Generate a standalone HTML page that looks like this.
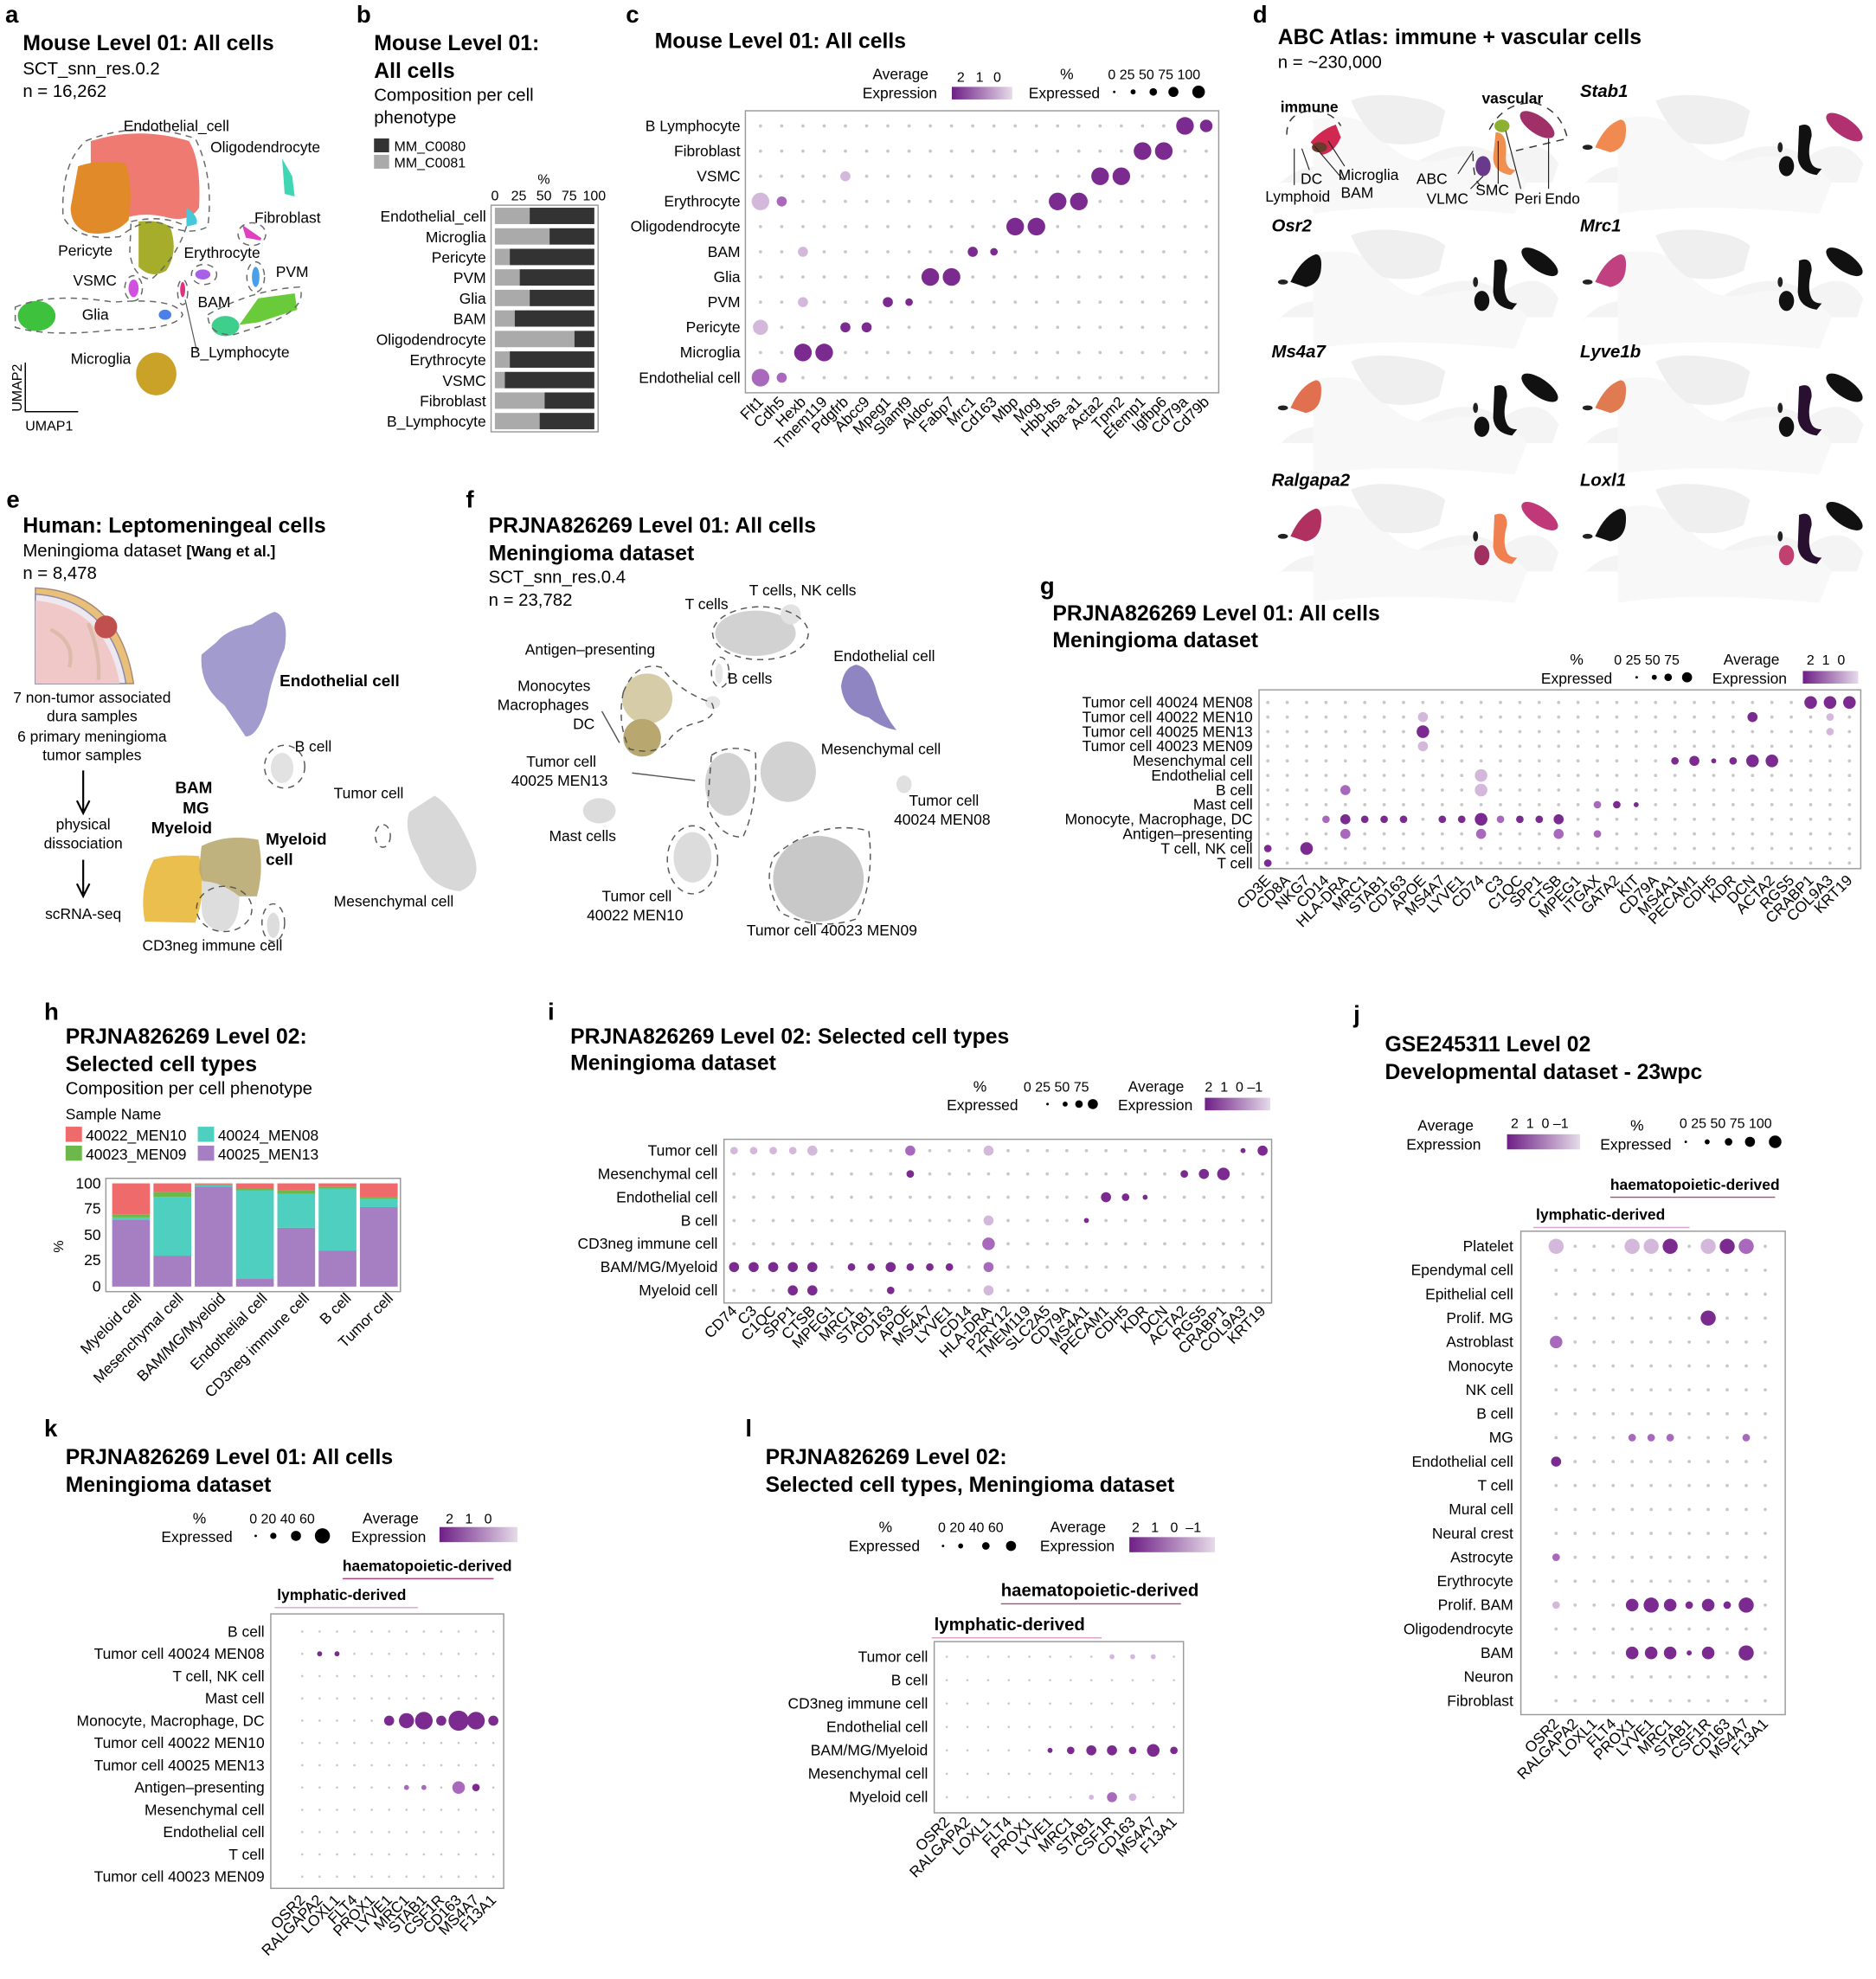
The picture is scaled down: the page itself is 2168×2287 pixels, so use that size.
<!DOCTYPE html>
<html><head><meta charset="utf-8"><style>html,body{margin:0;padding:0;background:#fff}svg{display:block}</style></head>
<body>
<svg id="s" xmlns="http://www.w3.org/2000/svg" width="2168" height="2287" viewBox="0 0 1490 1572" font-family="Liberation Sans, Arial, sans-serif" font-size="12">
<defs><linearGradient id="gr"><stop offset="0" stop-color="#6e1f86"/><stop offset="1" stop-color="#e6dbe9"/></linearGradient></defs>
<!-- ===== Panel a ===== -->
<g>
<text x="4" y="18" font-size="19" font-weight="bold">a</text>
<text x="18" y="40" font-size="17" font-weight="bold">Mouse Level 01: All cells</text>
<text x="18" y="59" font-size="14">SCT_snn_res.0.2</text>
<text x="18" y="77" font-size="14">n = 16,262</text>
<path d="M72 112 Q110 100 150 112 Q160 128 158 165 Q150 178 130 172 Q110 168 95 175 L72 172 Z" fill="#ef7a72"/>
<path d="M62 132 Q80 126 100 130 Q106 150 102 175 Q90 188 70 185 Q56 180 56 165 Z" fill="#e08a2a"/>
<path d="M148 165 Q158 172 156 178 L148 180 Z" fill="#45c8d8"/>
<path d="M110 176 Q125 174 135 180 Q142 200 132 215 Q120 222 110 212 Z" fill="#a5ad2a"/>
<path d="M224 126 L232 140 L234 156 L226 154 Z" fill="#3fd6b4"/>
<ellipse cx="29" cy="251" rx="15" ry="12" fill="#3ec23e"/>
<ellipse cx="124" cy="297" rx="16" ry="17" fill="#c9a227"/>
<path d="M205 237 L234 233 L236 246 L205 256 L190 258 Z" fill="#6acb3a"/>
<ellipse cx="179" cy="259" rx="11" ry="8" fill="#3ecf8c"/>
<path d="M194 181 L207 190 L196 188 Z" fill="#e040c0" stroke="#e040c0" stroke-width="2"/>
<ellipse cx="161" cy="218" rx="6" ry="4" fill="#a860e8"/>
<ellipse cx="203" cy="220" rx="3" ry="8" fill="#4aa0e8"/>
<ellipse cx="106" cy="229" rx="4" ry="7" fill="#d050e0"/>
<ellipse cx="131" cy="250" rx="5" ry="4" fill="#4a80e8"/>
<ellipse cx="145" cy="230" rx="2" ry="6" fill="#e03080"/>
<g fill="none" stroke="#666" stroke-dasharray="5,4">
<path d="M68 112 Q110 95 155 110 Q170 140 165 180 Q150 188 130 178 Q115 172 95 188 Q60 192 50 172 Q48 130 68 112 Z"/>
<path d="M104 176 Q130 170 148 180 Q140 205 120 222 Q105 220 103 200 Z"/>
<path d="M12 244 Q40 232 90 240 Q140 236 145 250 Q140 262 90 262 Q40 268 12 260 Z"/>
<path d="M165 250 Q200 230 238 228 Q245 245 210 258 L185 266 Q165 266 165 250 Z"/>
<ellipse cx="200" cy="186" rx="11" ry="9"/><ellipse cx="162" cy="218" rx="10" ry="8"/><ellipse cx="106" cy="229" rx="7" ry="10"/><ellipse cx="145" cy="232" rx="4" ry="10"/><ellipse cx="203" cy="220" rx="7" ry="12"/>
</g>
<line x1="147" y1="238" x2="156" y2="278" stroke="#555" stroke-width=".8"/>
<text x="98" y="104" font-size="12">Endothelial_cell</text>
<text x="167" y="121" font-size="12">Oligodendrocyte</text>
<text x="202" y="177" font-size="12">Fibroblast</text>
<text x="46" y="203" font-size="12">Pericyte</text>
<text x="146" y="205" font-size="12">Erythrocyte</text>
<text x="219" y="220" font-size="12">PVM</text>
<text x="58" y="227" font-size="12">VSMC</text>
<text x="157" y="244" font-size="12">BAM</text>
<text x="65" y="254" font-size="12">Glia</text>
<text x="56" y="289" font-size="12">Microglia</text>
<text x="151" y="284" font-size="12">B_Lymphocyte</text>
<path d="M20 288 V327 H62" fill="none" stroke="#000"/>
<text x="17" y="327" font-size="11" transform="rotate(-90 17 327)">UMAP2</text>
<text x="20" y="342" font-size="11">UMAP1</text>
</g>
<!-- ===== Panel b ===== -->
<g>
<text x="283" y="18" font-size="19" font-weight="bold">b</text>
<text x="297" y="40" font-size="17" font-weight="bold">Mouse Level 01:</text>
<text x="297" y="62" font-size="17" font-weight="bold">All cells</text>
<text x="297" y="80" font-size="14">Composition per cell</text>
<text x="297" y="98" font-size="14">phenotype</text>
<rect x="297" y="110" width="12" height="11" fill="#333"/><text x="313" y="120" font-size="11">MM_C0080</text>
<rect x="297" y="123" width="12" height="11" fill="#aaa"/><text x="313" y="133" font-size="11">MM_C0081</text>
<text x="427" y="146" font-size="11">%</text>
<text x="393" y="159" font-size="11" text-anchor="middle">0</text><text x="412" y="159" font-size="11" text-anchor="middle">25</text><text x="432" y="159" font-size="11" text-anchor="middle">50</text><text x="452" y="159" font-size="11" text-anchor="middle">75</text><text x="472" y="159" font-size="11" text-anchor="middle">100</text>
<rect x="390" y="163" width="85" height="180" fill="none" stroke="#999"/>
<g id="bbars"></g>
<g id="brows" font-size="12" text-anchor="end"><text>Endothelial_cell</text><text>Microglia</text><text>Pericyte</text><text>PVM</text><text>Glia</text><text>BAM</text><text>Oligodendrocyte</text><text>Erythrocyte</text><text>VSMC</text><text>Fibroblast</text><text>B_Lymphocyte</text></g>
</g>
<!-- ===== Panel c ===== -->
<g>
<text x="497" y="18" font-size="19" font-weight="bold">c</text>
<text x="520" y="38" font-size="17" font-weight="bold">Mouse Level 01: All cells</text>
<text x="693" y="63" font-size="12">Average</text><text x="685" y="78" font-size="12">Expression</text>
<text x="760" y="65" font-size="11">2</text><text x="775" y="65" font-size="11">1</text><text x="789" y="65" font-size="11">0</text>
<rect x="756" y="69" width="48" height="10" fill="url(#gr)"/>
<text x="842" y="63" font-size="12">%</text><text x="817" y="78" font-size="12">Expressed</text>
<text x="880" y="63" font-size="11">0 25 50 75 100</text>
<circle cx="885" cy="73" r="1" /><circle cx="900" cy="73" r="2"/><circle cx="916" cy="73" r="3"/><circle cx="932" cy="73" r="4"/><circle cx="952" cy="73" r="5"/>
<rect x="592" y="88" width="376" height="224" fill="none" stroke="#999"/>
<g id="crows" font-size="12" text-anchor="end"><text>B Lymphocyte</text><text>Fibroblast</text><text>VSMC</text><text>Erythrocyte</text><text>Oligodendrocyte</text><text>BAM</text><text>Glia</text><text>PVM</text><text>Pericyte</text><text>Microglia</text><text>Endothelial cell</text></g>
<g id="ccols" font-size="12" text-anchor="end"><text>Flt1</text><text>Cdh5</text><text>Hexb</text><text>Tmem119</text><text>Pdgfrb</text><text>Abcc9</text><text>Mpeg1</text><text>Slamf9</text><text>Aldoc</text><text>Fabp7</text><text>Mrc1</text><text>Cd163</text><text>Mbp</text><text>Mog</text><text>Hbb-bs</text><text>Hba-a1</text><text>Acta2</text><text>Tpm2</text><text>Efemp1</text><text>Igfbp6</text><text>Cd79a</text><text>Cd79b</text></g>
</g>
<!-- ===== Panel d ===== -->
<g>
<text x="995" y="18" font-size="19" font-weight="bold">d</text>
<text x="1015" y="35" font-size="17" font-weight="bold">ABC Atlas: immune + vascular cells</text>
<text x="1015" y="54" font-size="14">n = ~230,000</text>
<g id="dmaps"></g>
<g font-size="14" font-weight="bold" font-style="italic">
<text x="1255" y="77">Stab1</text><text x="1010" y="184">Osr2</text><text x="1255" y="184">Mrc1</text>
<text x="1010" y="284">Ms4a7</text><text x="1255" y="284">Lyve1b</text>
<text x="1010" y="386">Ralgapa2</text><text x="1255" y="386">Loxl1</text></g>
<g fill="none" stroke="#333" stroke-dasharray="6,5"><path d="M1022 107 Q1022 90 1040 88 Q1058 88 1065 100"/><path d="M1183 103 Q1195 80 1220 82 Q1240 88 1245 110 L1203 120"/><path d="M1170 122 Q1170 150 1180 148"/></g>
<g stroke="#222" stroke-width=".8"><line x1="1028" y1="118" x2="1028" y2="147"/><line x1="1034" y1="118" x2="1040" y2="135"/><line x1="1044" y1="116" x2="1067" y2="143"/><line x1="1055" y1="112" x2="1068" y2="132"/><line x1="1170" y1="120" x2="1158" y2="138"/><line x1="1178" y1="140" x2="1168" y2="150"/><line x1="1190" y1="112" x2="1190" y2="146"/><line x1="1196" y1="104" x2="1208" y2="150"/><line x1="1230" y1="110" x2="1230" y2="150"/></g>
<g font-size="12"><text x="1017" y="89" font-weight="bold">immune</text><text x="1177" y="82" font-weight="bold">vascular</text>
<text x="1033" y="146">DC</text><text x="1063" y="143">Microglia</text><text x="1005" y="160">Lymphoid</text><text x="1065" y="157">BAM</text>
<text x="1125" y="146">ABC</text><text x="1133" y="162">VLMC</text><text x="1172" y="155">SMC</text><text x="1203" y="162">Peri</text><text x="1227" y="162">Endo</text></g>
</g>
<!-- ===== Panel e ===== -->
<g>
<text x="5" y="403" font-size="19" font-weight="bold">e</text>
<text x="18" y="423" font-size="17" font-weight="bold">Human: Leptomeningeal cells</text>
<text x="18" y="442" font-size="14">Meningioma dataset <tspan font-weight="bold" font-size="12">[Wang et al.]</tspan></text>
<text x="18" y="460" font-size="14">n = 8,478</text>
<path d="M28 467 Q95 470 106 543 L28 543 Z" fill="#e8c07a" stroke="#a87"/>
<path d="M28 472 Q88 476 100 543 L28 543 Z" fill="#eee8f0" stroke="#88a"/>
<path d="M28 477 Q84 482 95 543 L28 543 Z" fill="#f0c8c8"/>
<path d="M40 500 Q60 510 55 530 M70 495 Q80 520 78 540" stroke="#dba" fill="none" stroke-width="3"/>
<circle cx="84" cy="498" r="9" fill="#c0504e"/>
<g font-size="12" text-anchor="middle"><text x="73" y="558">7 non-tumor associated</text><text x="73" y="573">dura samples</text><text x="73" y="589">6 primary meningioma</text><text x="73" y="604">tumor samples</text>
<text x="66" y="659">physical</text><text x="66" y="674">dissociation</text><text x="66" y="730">scRNA-seq</text></g>
<path d="M66 612 V644 M61 636 L66 646 L71 636 M66 683 V710 M61 702 L66 712 L71 702" stroke="#000" stroke-width="1.5" fill="none"/>
<path d="M172 510 Q180 500 200 496 Q212 488 218 486 Q230 490 226 515 Q215 540 212 560 Q205 585 195 585 Q185 570 178 560 Q158 545 160 520 Z" fill="#9189c6" opacity=".85"/>
<path d="M122 683 Q135 678 158 680 Q165 705 155 733 L115 732 Q110 705 122 683 Z" fill="#e8b83a" opacity=".9"/>
<path d="M160 672 Q180 662 205 667 Q210 690 204 712 L175 712 Q160 705 158 690 Z" fill="#b8aa70" opacity=".9"/>
<path d="M160 700 Q175 700 190 712 Q190 735 178 740 Q160 738 160 720 Z" fill="#ddd"/>
<ellipse cx="217" cy="735" rx="5" ry="10" fill="#ddd"/>
<path d="M345 632 Q360 640 375 675 Q385 700 365 708 Q340 705 332 680 Q320 660 325 645 Z" fill="#d8d8d8"/>
<ellipse cx="224" cy="610" rx="9" ry="12" fill="#e2e2e2"/>
<g fill="none" stroke="#555" stroke-dasharray="5,4"><ellipse cx="226" cy="609" rx="16" ry="17"/><ellipse cx="304" cy="664" rx="6" ry="9"/><ellipse cx="178" cy="722" rx="22" ry="18"/><ellipse cx="217" cy="733" rx="9" ry="15"/></g>
<g font-size="13" font-weight="bold"><text x="222" y="545">Endothelial cell</text><text x="139" y="630">BAM</text><text x="145" y="646">MG</text><text x="120" y="662">Myeloid</text><text x="211" y="671">Myeloid</text><text x="211" y="687">cell</text></g>
<g font-size="12"><text x="234" y="597">B cell</text><text x="265" y="634">Tumor cell</text><text x="265" y="720">Mesenchymal cell</text><text x="113" y="755">CD3neg immune cell</text></g>
</g>
<!-- ===== Panel f ===== -->
<g>
<text x="370" y="403" font-size="19" font-weight="bold">f</text>
<text x="388" y="423" font-size="17" font-weight="bold">PRJNA826269 Level 01: All cells</text>
<text x="388" y="445" font-size="17" font-weight="bold">Meningioma dataset</text>
<text x="388" y="463" font-size="14">SCT_snn_res.0.4</text>
<text x="388" y="481" font-size="14">n = 23,782</text>
<g fill="#d2d2d2"><ellipse cx="600" cy="503" rx="32" ry="18"/><ellipse cx="628" cy="488" rx="8" ry="8" fill="#e2e2e2"/><ellipse cx="626" cy="613" rx="22" ry="24"/><ellipse cx="578" cy="623" rx="18" ry="25"/><ellipse cx="476" cy="644" rx="13" ry="10" fill="#dcdcdc"/><ellipse cx="550" cy="681" rx="15" ry="20" fill="#dcdcdc"/><ellipse cx="650" cy="698" rx="36" ry="34" fill="#c8c8c8"/><ellipse cx="718" cy="623" rx="6" ry="7" fill="#e0e0e0"/><ellipse cx="566" cy="558" rx="6" ry="5" fill="#e6e6e6"/><ellipse cx="571" cy="535" rx="3" ry="8" fill="#e6e6e6"/></g>
<ellipse cx="514" cy="555" rx="20" ry="20" fill="#d6cda8"/><ellipse cx="510" cy="586" rx="15" ry="15" fill="#b8a870"/>
<path d="M680 528 Q690 530 695 545 Q700 565 712 580 Q700 578 690 570 Q670 565 668 545 Q670 530 680 528 Z" fill="#8f85c2"/>
<g fill="none" stroke="#555" stroke-dasharray="5,4"><ellipse cx="604" cy="503" rx="38" ry="21"/><path d="M495 550 Q505 525 525 530 Q540 550 565 558 Q572 570 550 575 Q535 580 530 590 Q520 600 500 595 Q490 575 495 550 Z"/><ellipse cx="572" cy="534" rx="7" ry="12"/><path d="M565 600 Q580 590 600 598 Q602 640 590 665 Q570 665 562 640 Z"/><ellipse cx="550" cy="683" rx="20" ry="27"/><path d="M615 680 Q650 650 690 660 Q695 700 680 730 Q650 740 620 725 Q605 700 615 680 Z"/></g>
<line x1="502" y1="614" x2="552" y2="620" stroke="#555"/>
<line x1="478" y1="565" x2="492" y2="590" stroke="#555"/>
<g font-size="12"><text x="595" y="473">T cells, NK cells</text><text x="544" y="484">T cells</text><text x="417" y="520">Antigen–presenting</text><text x="411" y="549">Monocytes</text><text x="395" y="564">Macrophages</text><text x="455" y="579">DC</text><text x="578" y="543">B cells</text><text x="662" y="525">Endothelial cell</text><text x="418" y="609">Tumor cell</text><text x="406" y="624">40025 MEN13</text><text x="652" y="599">Mesenchymal cell</text><text x="722" y="640">Tumor cell</text><text x="710" y="655">40024 MEN08</text><text x="436" y="668">Mast cells</text><text x="478" y="716">Tumor cell</text><text x="466" y="731">40022 MEN10</text><text x="593" y="743">Tumor cell 40023 MEN09</text></g>
</g>
<!-- ===== Panel g ===== -->
<g>
<text x="826" y="472" font-size="19" font-weight="bold">g</text>
<text x="836" y="493" font-size="17" font-weight="bold">PRJNA826269 Level 01: All cells</text>
<text x="836" y="514" font-size="17" font-weight="bold">Meningioma dataset</text>
<text x="1247" y="528" font-size="12">%</text><text x="1224" y="543" font-size="12">Expressed</text>
<text x="1282" y="528" font-size="11">0 25 50 75</text>
<circle cx="1300" cy="538" r="1"/><circle cx="1314" cy="538" r="2"/><circle cx="1325" cy="538" r="3"/><circle cx="1340" cy="538" r="4"/>
<text x="1369" y="528" font-size="12">Average</text><text x="1360" y="543" font-size="12">Expression</text>
<text x="1435" y="528" font-size="11">2&#160;&#160;1&#160;&#160;0</text>
<rect x="1432" y="533" width="44" height="10" fill="url(#gr)"/>
<rect x="1000" y="548" width="478" height="142" fill="none" stroke="#999"/>
<g id="grows" font-size="12" text-anchor="end"><text>Tumor cell 40024 MEN08</text><text>Tumor cell 40022 MEN10</text><text>Tumor cell 40025 MEN13</text><text>Tumor cell 40023 MEN09</text><text>Mesenchymal cell</text><text>Endothelial cell</text><text>B cell</text><text>Mast cell</text><text>Monocyte, Macrophage, DC</text><text>Antigen–presenting</text><text>T cell, NK cell</text><text>T cell</text></g>
<g id="gcols" font-size="12" text-anchor="end"><text>CD3E</text><text>CD8A</text><text>NKG7</text><text>CD14</text><text>HLA-DRA</text><text>MRC1</text><text>STAB1</text><text>CD163</text><text>APOE</text><text>MS4A7</text><text>LYVE1</text><text>CD74</text><text>C3</text><text>C1QC</text><text>SPP1</text><text>CTSB</text><text>MPEG1</text><text>ITGAX</text><text>GATA2</text><text>KIT</text><text>CD79A</text><text>MS4A1</text><text>PECAM1</text><text>CDH5</text><text>KDR</text><text>DCN</text><text>ACTA2</text><text>RGS5</text><text>CRABP1</text><text>COL9A3</text><text>KRT19</text></g>
</g>
<!-- ===== Panel h ===== -->
<g>
<text x="35" y="810" font-size="19" font-weight="bold">h</text>
<text x="52" y="829" font-size="17" font-weight="bold">PRJNA826269 Level 02:</text>
<text x="52" y="851" font-size="17" font-weight="bold">Selected cell types</text>
<text x="52" y="869" font-size="14">Composition per cell phenotype</text>
<text x="52" y="889" font-size="12">Sample Name</text>
<rect x="52" y="895" width="13" height="12" fill="#ef6b6b"/><text x="68" y="906" font-size="12">40022_MEN10</text>
<rect x="157" y="895" width="13" height="12" fill="#4fcfc0"/><text x="173" y="906" font-size="12">40024_MEN08</text>
<rect x="52" y="910" width="13" height="12" fill="#6cb84a"/><text x="68" y="921" font-size="12">40023_MEN09</text>
<rect x="157" y="910" width="13" height="12" fill="#a67fc3"/><text x="173" y="921" font-size="12">40025_MEN13</text>
<g font-size="12" text-anchor="end"><text x="80" y="944">100</text><text x="80" y="964">75</text><text x="80" y="985">50</text><text x="80" y="1005">25</text><text x="80" y="1026">0</text></g>
<text x="50" y="995" font-size="11" transform="rotate(-90 50 995)">%</text>
<rect x="84" y="936" width="234" height="90" fill="none" stroke="#999"/>
<g id="hbars"></g>
<g id="hcols" font-size="12" text-anchor="end"><text>Myeloid cell</text><text>Mesenchymal cell</text><text>BAM/MG/Myeloid</text><text>Endothelial cell</text><text>CD3neg immune cell</text><text>B cell</text><text>Tumor cell</text></g>
</g>
<!-- ===== Panel i ===== -->
<g>
<text x="435" y="810" font-size="19" font-weight="bold">i</text>
<text x="453" y="829" font-size="17" font-weight="bold">PRJNA826269 Level 02: Selected cell types</text>
<text x="453" y="850" font-size="17" font-weight="bold">Meningioma dataset</text>
<text x="773" y="867" font-size="12">%</text><text x="752" y="882" font-size="12">Expressed</text>
<text x="813" y="867" font-size="11">0 25 50 75</text>
<circle cx="832" cy="877" r="1"/><circle cx="846" cy="877" r="2"/><circle cx="857" cy="877" r="3"/><circle cx="868" cy="877" r="4"/>
<text x="896" y="867" font-size="12">Average</text><text x="888" y="882" font-size="12">Expression</text>
<text x="957" y="867" font-size="11">2&#160;&#160;1&#160;&#160;0 –1</text>
<rect x="957" y="872" width="52" height="10" fill="url(#gr)"/>
<rect x="575" y="905" width="435" height="130" fill="none" stroke="#999"/>
<g id="irows" font-size="12" text-anchor="end"><text>Tumor cell</text><text>Mesenchymal cell</text><text>Endothelial cell</text><text>B cell</text><text>CD3neg immune cell</text><text>BAM/MG/Myeloid</text><text>Myeloid cell</text></g>
<g id="icols" font-size="12" text-anchor="end"><text>CD74</text><text>C3</text><text>C1QC</text><text>SPP1</text><text>CTSB</text><text>MPEG1</text><text>MRC1</text><text>STAB1</text><text>CD163</text><text>APOE</text><text>MS4A7</text><text>LYVE1</text><text>CD14</text><text>HLA-DRA</text><text>P2RY12</text><text>TMEM119</text><text>SLC2A5</text><text>CD79A</text><text>MS4A1</text><text>PECAM1</text><text>CDH5</text><text>KDR</text><text>DCN</text><text>ACTA2</text><text>RGS5</text><text>CRABP1</text><text>COL9A3</text><text>KRT19</text></g>
</g>
<!-- ===== Panel j ===== -->
<g>
<text x="1075" y="812" font-size="19" font-weight="bold">j</text>
<text x="1100" y="835" font-size="17" font-weight="bold">GSE245311 Level 02</text>
<text x="1100" y="857" font-size="17" font-weight="bold">Developmental dataset - 23wpc</text>
<text x="1126" y="898" font-size="12">Average</text><text x="1117" y="913" font-size="12">Expression</text>
<text x="1200" y="896" font-size="11">2&#160;&#160;1&#160;&#160;0 –1</text>
<rect x="1197" y="901" width="58" height="12" fill="url(#gr)"/>
<text x="1295" y="898" font-size="12">%</text><text x="1271" y="913" font-size="12">Expressed</text>
<text x="1334" y="896" font-size="11">0 25 50 75 100</text>
<circle cx="1339" cy="907" r="1"/><circle cx="1356" cy="907" r="2"/><circle cx="1373" cy="907" r="3"/><circle cx="1390" cy="907" r="4"/><circle cx="1410" cy="907" r="5"/>
<text x="1279" y="945" font-size="12" font-weight="bold">haematopoietic-derived</text><line x1="1279" y1="951" x2="1410" y2="951" stroke="#b0487f"/>
<text x="1220" y="969" font-size="12" font-weight="bold">lymphatic-derived</text><line x1="1218" y1="975" x2="1342" y2="975" stroke="#d9a5c8"/>
<rect x="1208" y="978" width="210" height="384" fill="none" stroke="#999"/>
<g id="jrows" font-size="12" text-anchor="end"><text>Platelet</text><text>Ependymal cell</text><text>Epithelial cell</text><text>Prolif. MG</text><text>Astroblast</text><text>Monocyte</text><text>NK cell</text><text>B cell</text><text>MG</text><text>Endothelial cell</text><text>T cell</text><text>Mural cell</text><text>Neural crest</text><text>Astrocyte</text><text>Erythrocyte</text><text>Prolif. BAM</text><text>Oligodendrocyte</text><text>BAM</text><text>Neuron</text><text>Fibroblast</text></g>
<g id="jcols" font-size="12" text-anchor="end"><text>OSR2</text><text>RALGAPA2</text><text>LOXL1</text><text>FLT4</text><text>PROX1</text><text>LYVE1</text><text>MRC1</text><text>STAB1</text><text>CSF1R</text><text>CD163</text><text>MS4A7</text><text>F13A1</text></g>
</g>
<!-- ===== Panel k ===== -->
<g>
<text x="35" y="1141" font-size="19" font-weight="bold">k</text>
<text x="52" y="1163" font-size="17" font-weight="bold">PRJNA826269 Level 01: All cells</text>
<text x="52" y="1185" font-size="17" font-weight="bold">Meningioma dataset</text>
<text x="153" y="1210" font-size="12">%</text><text x="128" y="1225" font-size="12">Expressed</text>
<text x="198" y="1210" font-size="11">0 20 40 60</text>
<circle cx="203" cy="1220" r="1"/><circle cx="217" cy="1220" r="2.5"/><circle cx="235" cy="1220" r="4"/><circle cx="256" cy="1220" r="6"/>
<text x="288" y="1210" font-size="12">Average</text><text x="279" y="1225" font-size="12">Expression</text>
<text x="354" y="1210" font-size="11">2&#160;&#160;&#160;1&#160;&#160;&#160;0</text>
<rect x="349" y="1213" width="62" height="12" fill="url(#gr)"/>
<text x="272" y="1248" font-size="12" font-weight="bold">haematopoietic-derived</text><line x1="272" y1="1254" x2="392" y2="1254" stroke="#b0487f"/>
<text x="220" y="1271" font-size="12" font-weight="bold">lymphatic-derived</text><line x1="218" y1="1277" x2="332" y2="1277" stroke="#d9a5c8"/>
<rect x="215" y="1282" width="185" height="218" fill="none" stroke="#999"/>
<g id="krows" font-size="12" text-anchor="end"><text>B cell</text><text>Tumor cell 40024 MEN08</text><text>T cell, NK cell</text><text>Mast cell</text><text>Monocyte, Macrophage, DC</text><text>Tumor cell 40022 MEN10</text><text>Tumor cell 40025 MEN13</text><text>Antigen–presenting</text><text>Mesenchymal cell</text><text>Endothelial cell</text><text>T cell</text><text>Tumor cell 40023 MEN09</text></g>
<g id="kcols" font-size="12" text-anchor="end"><text>OSR2</text><text>RALGAPA2</text><text>LOXL1</text><text>FLT4</text><text>PROX1</text><text>LYVE1</text><text>MRC1</text><text>STAB1</text><text>CSF1R</text><text>CD163</text><text>MS4A7</text><text>F13A1</text></g>
</g>
<!-- ===== Panel l ===== -->
<g>
<text x="592" y="1141" font-size="19" font-weight="bold">l</text>
<text x="608" y="1163" font-size="17" font-weight="bold">PRJNA826269 Level 02:</text>
<text x="608" y="1185" font-size="17" font-weight="bold">Selected cell types, Meningioma dataset</text>
<text x="698" y="1217" font-size="12">%</text><text x="674" y="1232" font-size="12">Expressed</text>
<text x="745" y="1217" font-size="11">0 20 40 60</text>
<circle cx="749" cy="1228" r="1"/><circle cx="763" cy="1228" r="2"/><circle cx="783" cy="1228" r="3"/><circle cx="803" cy="1228" r="4"/>
<text x="834" y="1217" font-size="12">Average</text><text x="826" y="1232" font-size="12">Expression</text>
<text x="899" y="1217" font-size="11">2&#160;&#160;&#160;1&#160;&#160;&#160;0&#160;&#160;–1</text>
<rect x="897" y="1221" width="68" height="12" fill="url(#gr)"/>
<text x="795" y="1268" font-size="14" font-weight="bold">haematopoietic-derived</text><line x1="795" y1="1274" x2="938" y2="1274" stroke="#b0487f"/>
<text x="742" y="1295" font-size="14" font-weight="bold">lymphatic-derived</text><line x1="740" y1="1301" x2="875" y2="1301" stroke="#d9a5c8"/>
<rect x="742" y="1304" width="198" height="136" fill="none" stroke="#999"/>
<g id="lrows" font-size="12" text-anchor="end"><text>Tumor cell</text><text>B cell</text><text>CD3neg immune cell</text><text>Endothelial cell</text><text>BAM/MG/Myeloid</text><text>Mesenchymal cell</text><text>Myeloid cell</text></g>
<g id="lcols" font-size="12" text-anchor="end"><text>OSR2</text><text>RALGAPA2</text><text>LOXL1</text><text>FLT4</text><text>PROX1</text><text>LYVE1</text><text>MRC1</text><text>STAB1</text><text>CSF1R</text><text>CD163</text><text>MS4A7</text><text>F13A1</text></g>
</g>
<g id="dots"></g>
</svg>
<script>
var NS="http://www.w3.org/2000/svg";
function el(p,t,a){var e=document.createElementNS(NS,t);for(var k in a)e.setAttribute(k,a[k]);p.appendChild(e);return e;}
function rows(id,x,y0,dy){var c=document.getElementById(id).children;for(var i=0;i<c.length;i++){c[i].setAttribute('x',x);c[i].setAttribute('y',y0+i*dy+4);}}
function cols(id,x0,dx,y){var c=document.getElementById(id).children;for(var i=0;i<c.length;i++){c[i].setAttribute('transform','translate('+(x0+i*dx+3)+','+y+') rotate(-45)');}}
var D=document.getElementById('dots');
var C={d:'#7b2a8f',m:'#a868bb',l:'#d4b8dc',x:'#bbb'};
function dots(x0,dx,nc,y0,dy,nr,big,sr){
  for(var r=0;r<nr;r++)for(var c=0;c<nc;c++)el(D,'circle',{cx:x0+c*dx,cy:y0+r*dy,r:sr||1.3,fill:'#c8c8c8'});
  big.forEach(function(b){el(D,'circle',{cx:x0+b[1]*dx,cy:y0+b[0]*dy,r:b[2],fill:C[b[3]||'d']});});
}
// b
rows('brows',386,172,16.3);
var lg=[35,55,15,25,35,20,80,15,10,50,45],B=document.getElementById('bbars');
lg.forEach(function(v,i){var y=165+i*16.3;el(B,'rect',{x:393,y:y,width:79*v/100,height:13,fill:'#aaa'});el(B,'rect',{x:393+79*v/100,y:y,width:79*(1-v/100),height:13,fill:'#333'});});
// c
rows('crows',588,100,20);cols('ccols',604,16.86,320);
dots(604,16.86,22,100,20,11,[[10,0,7,'m'],[10,1,4,'m'],[9,2,7],[9,3,7],[8,0,6,'l'],[8,4,4],[8,5,4],[7,6,4],[7,7,3],[7,2,4,'l'],[6,8,7],[6,9,7],[5,10,4],[5,11,3],[5,2,4,'l'],[4,12,7],[4,13,7],[3,14,7],[3,15,7],[3,0,7,'l'],[3,1,4,'m'],[2,16,7],[2,17,7],[2,4,4,'l'],[1,18,7],[1,19,7],[0,20,7],[0,21,5]]);
// d maps
var DM=document.getElementById('dmaps');
var spec=[null,['#f08a50','#111','#111','#b03070'],['#111','#111','#111','#111'],['#c04080','#111','#111','#111'],['#e07050','#111','#111','#111'],['#e07a50','#2a1030','#111','#111'],['#b03060','#f08050','#a03060','#c03878'],['#111','#2a1030','#c04070','#111']];
var ys=[0,107,207,309];
for(var r=0;r<4;r++)for(var c=0;c<2;c++){
 var ox=c?1245:1003,oy=55+ys[r],k=r*2+c;
 el(DM,'path',{d:'M'+(ox+10)+' '+(oy+95)+' q20 -25 50 -15 q30 -20 60 -5 q40 -25 70 -5 q30 -20 45 5 l-5 15 h-215 z',fill:'#f4f4f4'});
 el(DM,'path',{d:'M'+(ox+40)+' '+(oy+40)+' q40 -10 60 20 q20 20 50 10 q40 -5 60 20 l-10 25 q-100 -10 -160 0 z',fill:'#f8f8f8'});
 el(DM,'path',{d:'M'+(ox+70)+' '+(oy+25)+' q20 -8 50 -2 q15 2 25 10 l-5 20 q-20 10 -45 5 q-15 -10 -25 -33 z',fill:'#efefef'});
 if(k==0){
  el(DM,'path',{d:'M'+(ox+38)+' '+(oy+58)+' q8 -10 20 -14 l4 10 q-5 12 -15 14 z',fill:'#d02850'});
  el(DM,'ellipse',{cx:ox+45,cy:oy+62,rx:6,ry:4,fill:'#6a3a2a'});
  el(DM,'ellipse',{cx:ox+190,cy:oy+45,rx:6,ry:5,fill:'#8cb030'});
  el(DM,'path',{d:'M'+(ox+185)+' '+(oy+50)+' q10 0 8 20 q0 10 8 10 l-4 4 q-14 -2 -14 -14 z',fill:'#f09050'});
  el(DM,'ellipse',{cx:ox+175,cy:oy+77,rx:6,ry:8,fill:'#6a3a8a'});
  el(DM,'ellipse',{cx:ox+218,cy:oy+44,rx:16,ry:7,fill:'#a03068',transform:'rotate(35 '+(ox+218)+' '+(oy+44)+')'});
 } else {
  var s=spec[k];
  el(DM,'path',{d:'M'+(ox+22)+' '+(oy+62)+' q8 -18 20 -22 q6 0 4 14 q-2 10 -12 12 z',fill:s[0]});
  el(DM,'ellipse',{cx:ox+16,cy:oy+62,rx:4,ry:2,fill:'#222'});
  el(DM,'path',{d:'M'+(ox+184)+' '+(oy+45)+' q10 -4 10 8 q-4 14 0 22 q2 4 8 4 l-4 5 q-14 -2 -15 -14 z',fill:s[1]});
  el(DM,'ellipse',{cx:ox+174,cy:oy+77,rx:6,ry:8,fill:s[2]});
  el(DM,'ellipse',{cx:ox+169,cy:oy+62,rx:2,ry:4,fill:'#222'});
  el(DM,'ellipse',{cx:ox+220,cy:oy+46,rx:17,ry:7,fill:s[3],transform:'rotate(35 '+(ox+220)+' '+(oy+46)+')'});
 }
}
// g
rows('grows',995,558,11.6);cols('gcols',1007,15.4,700);
dots(1007,15.4,31,558,11.6,12,[[11,0,3],[10,0,3],[10,2,5],[8,3,3,'m'],[8,4,4],[8,5,3],[8,6,3],[8,7,3],[8,9,3],[8,10,3],[8,11,5],[8,13,3],[8,14,3],[8,15,4],[8,12,3,'m'],[9,4,4,'m'],[9,11,4,'m'],[9,15,4,'m'],[9,17,3,'m'],[6,4,4,'m'],[6,11,5,'l'],[5,11,5,'l'],[7,18,3],[7,19,2],[7,17,3,'m'],[4,21,3],[4,22,4],[4,23,2],[4,24,3],[4,25,5],[4,26,5],[3,8,4,'l'],[2,8,5],[1,25,4],[1,8,4,'l'],[0,28,5],[0,29,5],[0,30,5],[1,29,3,'l'],[2,29,3,'l']]);
// h
cols('hcols',110,33.3,1032);
var H=document.getElementById('hbars'),hv=[[65,2,3,30],[30,57,5,8],[97,1,1,1],[8,85,2,5],[57,33,3,7],[35,60,2,3],[77,8,2,13]],hc=['#a67fc3','#4fcfc0','#6cb84a','#ef6b6b'];
hv.forEach(function(v,i){var x=89+i*32.8,y=1022;v.forEach(function(p,k){var h=p*0.82;y-=h;el(H,'rect',{x:x,y:y,width:30,height:h,fill:hc[k]});});});
// i
rows('irows',570,914,18.5);cols('icols',583,15.55,1042);
dots(583,15.55,28,914,18.5,7,[[0,0,3,'l'],[0,1,3,'l'],[0,2,3,'l'],[0,3,3,'l'],[0,4,4,'l'],[0,9,4,'m'],[0,13,4,'l'],[1,9,3],[5,0,4],[5,1,4],[5,2,4],[5,3,4],[5,4,4],[5,6,3],[5,7,3],[5,8,4],[5,9,3],[5,10,3],[5,11,3],[5,13,4,'m'],[6,3,4],[6,4,4],[6,8,3],[6,13,4,'l'],[4,13,5,'m'],[3,13,4,'l'],[2,19,4],[2,20,3],[2,21,2],[3,18,2],[1,23,3],[1,24,4],[1,25,5],[0,26,2],[0,27,4]]);
// j
rows('jrows',1202,990,19);cols('jcols',1236,15.1,1370);
dots(1236,15.1,12,990,19,20,[[0,0,6,'l'],[0,4,6,'l'],[0,5,6,'l'],[0,6,6],[0,8,6,'l'],[0,9,6],[0,10,6,'m'],[3,8,6],[4,0,5,'m'],[9,0,4],[15,0,3,'l'],[15,4,5],[15,5,6],[15,6,5],[15,7,3],[15,8,5],[15,9,3],[15,10,6],[17,4,5],[17,5,5],[17,6,5],[17,7,2],[17,8,5],[17,10,6],[8,4,3,'m'],[8,5,3,'m'],[8,6,3,'m'],[8,10,3,'m'],[13,0,3,'m']]);
// k
rows('krows',210,1296,17.7);cols('kcols',240,13.8,1510);
dots(240,13.8,12,1296,17.7,12,[[4,5,4],[4,6,6],[4,7,7],[4,8,4],[4,9,8],[4,10,7],[4,11,4],[7,9,5,'m'],[7,10,3],[7,6,2,'m'],[7,7,2,'m'],[1,1,2],[1,2,2]],0.9);
// l
rows('lrows',737,1316,18.6);cols('lcols',752,16.4,1448);
dots(752,16.4,12,1316,18.6,7,[[4,6,3],[4,7,4],[4,8,4],[4,9,3],[4,10,5],[4,11,3],[4,5,2],[0,8,2,'l'],[0,9,2,'l'],[0,10,2,'l'],[6,8,4,'m'],[6,9,3,'l'],[6,7,2,'l']],0.9);
</script>
</body></html>
